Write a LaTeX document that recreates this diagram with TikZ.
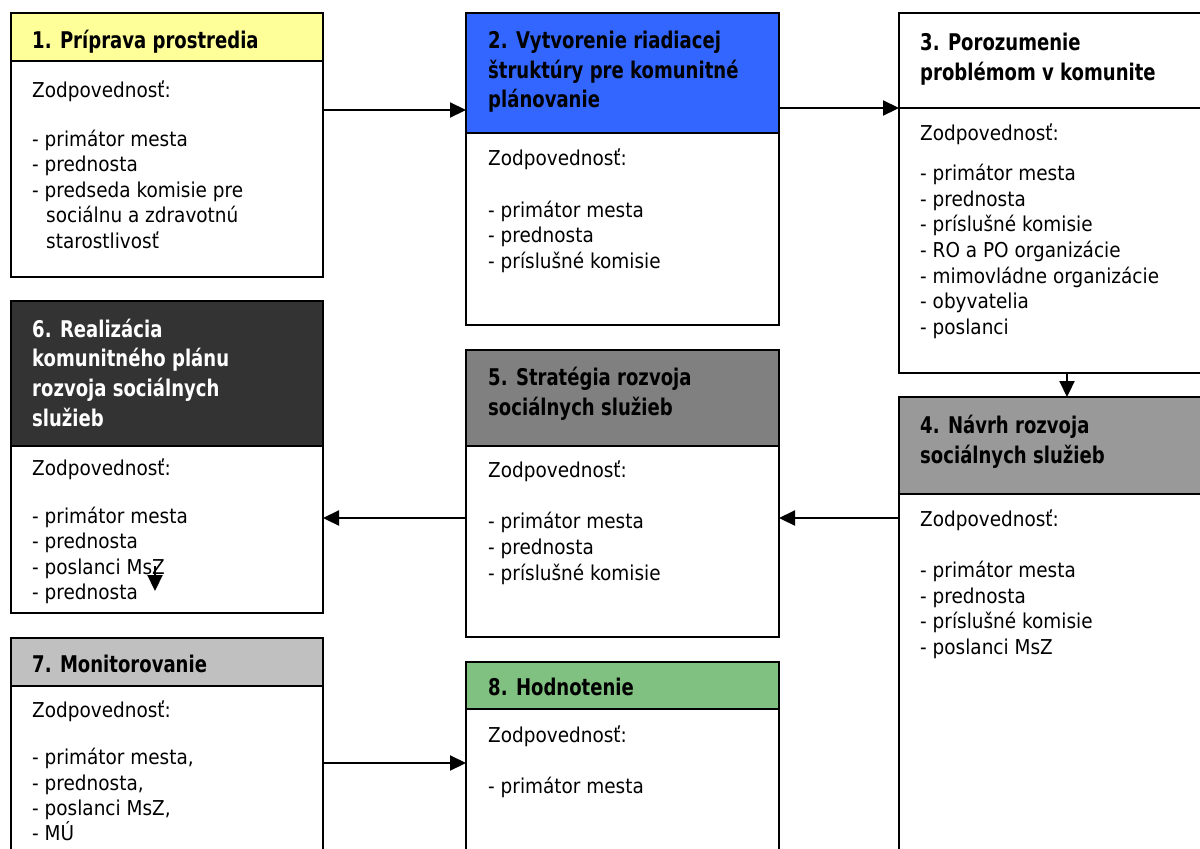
\documentclass[tikz,border=0pt]{standalone}
\usepackage{fontspec}
\usetikzlibrary{arrows.meta}
\newfontfamily\bodyfont[FakeStretch=0.9]{DejaVu Sans}
\newfontfamily\headfont[FakeStretch=0.785]{DejaVu Sans}
\definecolor{cyellow}{HTML}{FFFF99}
\definecolor{cblue}{HTML}{3366FF}
\definecolor{cdark}{HTML}{333333}
\definecolor{cgrayfive}{HTML}{808080}
\definecolor{cgrayfour}{HTML}{999999}
\definecolor{cgrayseven}{HTML}{C0C0C0}
\definecolor{cgreen}{HTML}{80C080}
\newcommand\txtlines[3]{%
  \foreach \xx/\yy/\ttext [count=\i] in {#3} {%
    \node[#2] (#1-\i) at (\xx,\yy) {\ttext};}}
\begin{document}
\begin{tikzpicture}[x=1pt,y=-1pt,
  boxst/.style={draw=black, line width=2.2pt, rectangle, inner sep=0pt, outer sep=0pt, anchor=north west},
  arr/.style={line width=2.2pt, -{Triangle[length=16pt,width=15pt]}},
  bodytxt/.style={font=\bodyfont\fontsize{20.5pt}{25pt}\selectfont, anchor=base west, inner sep=0pt},
  headtxt/.style={font=\headfont\bfseries\fontsize{23pt}{30pt}\selectfont, anchor=base west, inner sep=0pt}]
\useasboundingbox (0,0) rectangle (1200,849);
\clip (0,0) rectangle (1200,849);
\fill[white] (0,0) rectangle (1200,849);
% boxes: body then header
\node[boxst, fill=white, minimum width=312pt, minimum height=216pt] (b1) at (11,61) {};
\node[boxst, fill=cyellow, minimum width=312pt, minimum height=48pt] (h1) at (11,13) {};
\node[boxst, fill=white, minimum width=313pt, minimum height=192pt] (b2) at (466,133) {};
\node[boxst, fill=cblue, minimum width=313pt, minimum height=120pt] (h2) at (466,13) {};
\node[boxst, fill=white, minimum width=320pt, minimum height=265pt] (b3) at (899,108) {};
\node[boxst, fill=white, minimum width=320pt, minimum height=95pt] (h3) at (899,13) {};
\node[boxst, fill=white, minimum width=320pt, minimum height=380pt] (b4) at (899,494) {};
\node[boxst, fill=cgrayfour, minimum width=320pt, minimum height=97pt] (h4) at (899,397) {};
\node[boxst, fill=white, minimum width=313pt, minimum height=191pt] (b5) at (466,446) {};
\node[boxst, fill=cgrayfive, minimum width=313pt, minimum height=96pt] (h5) at (466,350) {};
\node[boxst, fill=white, minimum width=312pt, minimum height=167pt] (b6) at (11,446) {};
\node[boxst, fill=cdark, minimum width=312pt, minimum height=145pt] (h6) at (11,301) {};
\node[boxst, fill=white, minimum width=312pt, minimum height=200pt] (b7) at (11,686) {};
\node[boxst, fill=cgrayseven, minimum width=312pt, minimum height=48pt] (h7) at (11,638) {};
\node[boxst, fill=white, minimum width=313pt, minimum height=200pt] (b8) at (466,709) {};
\node[boxst, fill=cgreen, minimum width=313pt, minimum height=47pt] (h8) at (466,662) {};
% connectors
\draw[arr] (b1.east |- 0,110) -- (h2.west |- 0,110);
\draw[arr] (h2.east |- 0,108) -- (h3.west |- 0,108);
\draw[arr] (b3.south -| 1067,0) -- (h4.north -| 1067,0);
\draw[arr] (b4.west |- 0,518) -- (b5.east |- 0,518);
\draw[arr] (b5.west |- 0,518) -- (b6.east |- 0,518);
\draw[arr] (b7.east |- 0,763) -- (b8.west |- 0,763);
\coordinate (s1) at (155,566);
\coordinate (s2) at (155,591);
\draw[arr] (s1) -- (s2);
% headings
\txtlines{ht1}{headtxt}{32/48/1. Príprava prostredia}
\txtlines{ht2}{headtxt}{488/48.5/2. Vytvorenie riadiacej, 488/78/štruktúry pre komunitné, 488/107.5/plánovanie}
\txtlines{ht3}{headtxt}{920/50/3. Porozumenie, 920/80/problémom v komunite}
\txtlines{ht4}{headtxt}{920/433/4. Návrh rozvoja, 920/463/sociálnych služieb}
\txtlines{ht5}{headtxt}{488/385/5. Stratégia rozvoja, 488/415.5/sociálnych služieb}
\txtlines{ht6}{headtxt,text=white}{32/337/6. Realizácia, 32/366.5/komunitného plánu, 32/396/rozvoja sociálnych, 32/426/služieb}
\txtlines{ht7}{headtxt}{32/672.5/7. Monitorovanie}
\txtlines{ht8}{headtxt}{488/695/8. Hodnotenie}
% bodies
\txtlines{bt1}{bodytxt}{32/97/Zodpovednosť:, 32/146/- primátor mesta, 32/171.5/- prednosta, 32/197/- predseda komisie pre, 46/222.5/sociálnu a zdravotnú, 46/248/starostlivosť}
\txtlines{bt2}{bodytxt}{488/165/Zodpovednosť:, 488/217/- primátor mesta, 488/242.5/- prednosta, 488/268/- príslušné komisie}
\txtlines{bt3}{bodytxt}{920/140.5/Zodpovednosť:, 920/180/- primátor mesta, 920/206/- prednosta, 920/231.5/- príslušné komisie, 920/257/- RO a PO organizácie, 920/283/- mimovládne organizácie, 920/308.5/- obyvatelia, 920/334/- poslanci}
\txtlines{bt4}{bodytxt}{920/526/Zodpovednosť:, 920/577/- primátor mesta, 920/603/- prednosta, 920/628.5/- príslušné komisie, 920/654/- poslanci MsZ}
\txtlines{bt5}{bodytxt}{488/477/Zodpovednosť:, 488/528/- primátor mesta, 488/554/- prednosta, 488/580/- príslušné komisie}
\txtlines{bt6}{bodytxt}{32/475/Zodpovednosť:, 32/523/- primátor mesta, 32/548.5/- prednosta, 32/574/- poslanci MsZ, 32/599.5/- prednosta}
\txtlines{bt7}{bodytxt}{{32/717/Zodpovednosť:}, {32/764.5/- primátor mesta,}, {32/790/- prednosta,}, {32/815/- poslanci MsZ,}, {32/840/- MÚ}}
\txtlines{bt8}{bodytxt}{488/742/Zodpovednosť:, 488/793/- primátor mesta}
\end{tikzpicture}
\end{document}
